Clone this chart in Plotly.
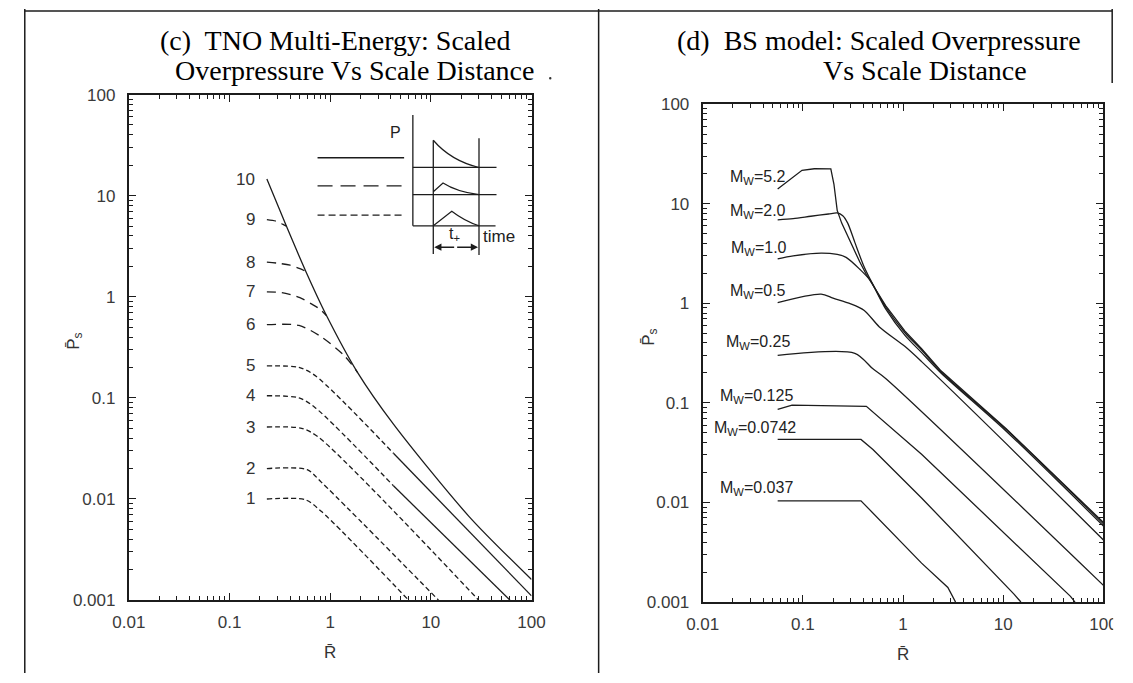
import math
import plotly.graph_objects as go

# ===================== DATA =====================
# Panel (c): TNO Multi-Energy - scaled overpressure vs scaled distance
tno_labels = ["1", "2", "3", "4", "5", "6", "7", "8", "9", "10"]
tno1_R = [0.235, 0.57, 0.82, 6.0]
tno1_P = [0.0100, 0.0098, 0.0075, 0.0010]
tno2_R = [0.235, 0.59, 0.82, 11.9]
tno2_P = [0.0200, 0.0195, 0.0146, 0.0010]
tno3_R = [0.235, 0.52, 0.76, 29.8]
tno3_P = [0.0515, 0.0500, 0.0410, 0.0010]
tno4_R = [0.235, 0.49, 0.71, 4.25, 61.0]
tno4_P = [0.105, 0.100, 0.080, 0.0135, 0.0010]
tno5_R = [0.235, 0.49, 0.71, 4.25, 100.0]
tno5_P = [0.207, 0.200, 0.166, 0.0283, 0.0011]
tno6_R = [0.235, 0.49, 0.82, 1.39, 1.86]
tno6_P = [0.53, 0.52, 0.40, 0.26, 0.18]
tno7_R = [0.235, 0.33, 0.50, 0.65, 0.78, 0.92]
tno7_P = [1.12, 1.10, 0.98, 0.85, 0.76, 0.65]
tno8_R = [0.235, 0.30, 0.40, 0.50, 0.573]
tno8_P = [2.20, 2.15, 2.05, 1.90, 1.78]
tno9_R = [0.235, 0.29, 0.34, 0.367]
tno9_P = [5.8, 5.6, 5.2, 5.0]
tno10_R = [0.235, 0.367, 0.573, 0.90, 1.86, 4.25, 24.0, 100.0]
tno10_P = [14.6, 5.0, 1.78, 0.68, 0.18, 0.055, 0.0067, 0.0016]

# Panel (d): BS model - scaled overpressure vs scaled distance
bs_labels = ["5.2", "2.0", "1.0", "0.5", "0.25", "0.125", "0.0742", "0.037"]
bs1_R = [0.056, 0.071, 0.098, 0.13, 0.19, 0.204, 0.22, 0.244, 0.298, 0.37, 0.43, 0.67, 1.04, 1.53, 2.39, 10.7, 100.0]
bs1_P = [14.1, 16.9, 21.7, 22.5, 22.4, 15.8, 8.6, 6.4, 4.1, 2.6, 1.95, 0.95, 0.53, 0.35, 0.21, 0.055, 0.0063]
bs2_R = [0.056, 0.08, 0.12, 0.18, 0.22, 0.25, 0.28, 0.33, 0.40, 0.47, 0.67, 1.04, 1.53, 2.39, 10.7, 100.0]
bs2_P = [6.9, 7.1, 7.5, 7.9, 8.1, 7.6, 6.4, 4.1, 2.45, 1.75, 0.92, 0.51, 0.34, 0.206, 0.054, 0.0061]
bs3_R = [0.056, 0.08, 0.152, 0.22, 0.27, 0.37, 0.47, 0.67, 1.04, 1.53, 2.39, 10.7, 100.0]
bs3_P = [2.8, 3.0, 3.2, 3.1, 2.9, 2.2, 1.7, 0.88, 0.48, 0.32, 0.20, 0.052, 0.0058]
bs4_R = [0.056, 0.152, 0.20, 0.30, 0.41, 0.58, 1.04, 1.53, 10.7, 100.0]
bs4_P = [1.02, 1.24, 1.13, 0.99, 0.85, 0.58, 0.37, 0.26, 0.039, 0.0042]
bs5_R = [0.056, 0.33, 0.50, 0.67, 100.0]
bs5_P = [0.30, 0.315, 0.22, 0.176, 0.00147]
bs6_R = [0.056, 0.078, 0.43, 0.58, 1.53, 46.9, 52.0]
bs6_P = [0.086, 0.095, 0.0925, 0.0716, 0.0305, 0.00114, 0.0010]
bs7_R = [0.056, 0.38, 0.50, 1.53, 12.8, 15.0]
bs7_P = [0.043, 0.043, 0.034, 0.0111, 0.0012, 0.0010]
bs8_R = [0.056, 0.38, 1.53, 2.8, 3.34]
bs8_P = [0.0104, 0.0104, 0.00246, 0.0014, 0.0010]

x_tick_vals = [0.01, 0.1, 1, 10, 100]
x_tick_text = ["0.01", "0.1", "1", "10", "100"]
y_tick_vals = [0.001, 0.01, 0.1, 1, 10, 100]
y_tick_text = ["0.001", "0.01", "0.1", "1", "10", "100"]

# ===================== STYLE / LAYOUT =====================
W, H = 1133, 683
INK = "#1c1c1c"
SANS = "Liberation Sans, Arial, Helvetica, sans-serif"
SERIF = "Liberation Serif, Times New Roman, serif"

LEFT_BOX = (115, 529, 88, 608)     # x0, x1, ytop, ybottom (pixels)
RIGHT_BOX = (705, 1117, 98, 610)

SHORT_DASH = "5px,3px"
LONG_DASH = "9px,6px"
tno_dash = [SHORT_DASH] * 5 + [LONG_DASH] * 4 + ["solid"]
tno_solid_from = {3: 4.25, 4: 4.25}   # curve index -> R beyond which drawn solid

tno_R = [tno1_R, tno2_R, tno3_R, tno4_R, tno5_R, tno6_R, tno7_R, tno8_R, tno9_R, tno10_R]
tno_P = [tno1_P, tno2_P, tno3_P, tno4_P, tno5_P, tno6_P, tno7_P, tno8_P, tno9_P, tno10_P]
bs_R = [bs1_R, bs2_R, bs3_R, bs4_R, bs5_R, bs6_R, bs7_R, bs8_R]
bs_P = [bs1_P, bs2_P, bs3_P, bs4_P, bs5_P, bs6_P, bs7_P, bs8_P]
bs_spline = [False, True, True, True, True, False, False, False]

fig = go.Figure()

def line_trace(x, y, xa, ya, dash="solid", spline=False):
    return go.Scatter(
        x=x, y=y, xaxis=xa, yaxis=ya, mode="lines", showlegend=False, hoverinfo="skip",
        line=dict(color=INK, width=1.3, dash=dash,
                  shape="spline" if spline else "linear", smoothing=0.8),
    )

for i, (R, P) in enumerate(zip(tno_R, tno_P)):
    if i in tno_solid_from:
        cut = tno_solid_from[i]
        k = R.index(cut)
        fig.add_trace(line_trace(R[:k + 1], P[:k + 1], "x", "y", tno_dash[i], True))
        fig.add_trace(line_trace(R[k:], P[k:], "x", "y", "solid", False))
    else:
        fig.add_trace(line_trace(R, P, "x", "y", tno_dash[i], True))

for i, (R, P) in enumerate(zip(bs_R, bs_P)):
    fig.add_trace(line_trace(R, P, "x2", "y2", "solid", bs_spline[i]))

# invisible trace on a pixel-space overlay axis (used for labels, table lines, inset)
fig.add_trace(go.Scatter(x=[None], y=[None], xaxis="x3", yaxis="y3", showlegend=False, hoverinfo="skip"))

x_minor = [k * 10 ** e for e in range(-2, 2) for k in range(2, 10)]
y_minor = [k * 10 ** e for e in range(-3, 2) for k in range(2, 10)]

def log_axis(box, is_x, anchor):
    x0, x1, yt, yb = box
    dom = [x0 / W, x1 / W] if is_x else [1 - yb / H, 1 - yt / H]
    return dict(
        type="log", domain=dom, anchor=anchor,
        range=[-2, 2] if is_x else [-3, 2],
        tickmode="array",
        tickvals=x_tick_vals if is_x else y_tick_vals,
        ticktext=x_tick_text if is_x else y_tick_text,
        ticks="inside", ticklen=7, tickwidth=1.3, tickcolor=INK,
        minor=dict(tickmode="array", tickvals=x_minor if is_x else y_minor,
                   ticks="inside", ticklen=4, tickwidth=1.1, tickcolor=INK, showgrid=False),
        showline=True, linecolor=INK, linewidth=2, mirror="allticks",
        showgrid=False, zeroline=False,
        ticklabelstandoff=6 if is_x else 8,
        tickfont=dict(family=SANS, size=17, color="#3a3a3a"),
    )

fig.update_layout(
    width=W, height=H, margin=dict(l=0, r=0, t=0, b=0),
    paper_bgcolor="white", plot_bgcolor="rgba(0,0,0,0)",
    xaxis=log_axis(LEFT_BOX, True, "y"),
    yaxis=log_axis(LEFT_BOX, False, "x"),
    xaxis2=log_axis(RIGHT_BOX, True, "y2"),
    yaxis2=log_axis(RIGHT_BOX, False, "x2"),
    xaxis3=dict(domain=[0, 1], range=[0, W], visible=False, anchor="y3", fixedrange=True),
    yaxis3=dict(domain=[0, 1], range=[H, 0], visible=False, anchor="x3", fixedrange=True),
)

shapes = []
annos = []

def seg(x0, y0, x1, y1, width=1.3, dash="solid", color=INK):
    shapes.append(dict(type="line", xref="x3", yref="y3", x0=x0, y0=y0, x1=x1, y1=y1,
                       line=dict(color=color, width=width, dash=dash), layer="above"))

def txt(x, y, s, size=17, family=SANS, xanchor="center", color=INK, angle=0, ref=("x3", "y3")):
    annos.append(dict(xref=ref[0], yref=ref[1], x=x, y=y, text=s, showarrow=False,
                      xanchor=xanchor, yanchor="middle", textangle=angle,
                      font=dict(family=family, size=size, color=color)))

# table borders
seg(8, 0, 8, H, 1.5)
seg(8, 2, 1126, 2, 1.5)
seg(598, 0, 598, H, 1.5)
seg(1126, 0, 1126, 76, 1.5)
shapes.append(dict(type="rect", xref="x3", yref="y3", x0=1127, x1=W + 2, y0=78, y1=H + 2,
                   fillcolor="white", line=dict(width=0), layer="above"))

# panel titles
txt(145, 32, "(c)  TNO Multi-Energy: Scaled", 28, SERIF, "left", "#000")
txt(160, 63, "Overpressure Vs Scale Distance", 28, SERIF, "left", "#000")
txt(676, 32, "(d)  BS model: Scaled Overpressure", 28, SERIF, "left", "#000")
txt(827, 63, "Vs Scale Distance", 28, SERIF, "left", "#000")
shapes.append(dict(type="circle", xref="x3", yref="y3", x0=547, x1=549.5, y0=70, y1=72.5,
                   fillcolor="#333", line=dict(width=0), layer="above"))

# axis titles
txt((LEFT_BOX[0] + LEFT_BOX[1]) / 2, 662, "R\u0304", 17, SANS, color="#333")
txt((RIGHT_BOX[0] + RIGHT_BOX[1]) / 2, 664, "R\u0304", 17, SANS, color="#333")
txt(60, 342, "P\u0304<sub>s</sub>", 17, SANS, color="#333", angle=-90)
txt(650, 338, "P\u0304<sub>s</sub>", 17, SANS, color="#333", angle=-90)

# TNO curve number labels (at each curve's starting level)
for lab, P in zip(tno_labels, tno_P):
    annos.append(dict(xref="x", yref="y", x=math.log10(0.187), y=math.log10(P[0]), text=lab,
                      showarrow=False, xanchor="right", yanchor="middle",
                      font=dict(family=SANS, size=17, color="#333")))

# BS model labels
bs_label_pos = [(731, 173), (731, 208), (732, 246), (731, 291), (727, 343), (721, 399), (715, 431), (721, 493)]
for lab, (lx, ly) in zip(bs_labels, bs_label_pos):
    txt(lx, ly, "M<sub>W</sub>=" + lab, 16, SANS, "left", "#222")

# inset schematic (pressure-time key) in panel (c)
seg(309, 153, 398, 153, 1.3)
seg(309, 182, 398, 182, 1.3, "15px,8px")
seg(309, 212, 398, 212, 1.3, "7px,4px")
seg(407, 109, 407, 223, 1.3)
seg(407, 163, 493, 163, 1.3)
seg(407, 191, 493, 191, 1.3)
seg(407, 223, 492, 223, 1.3)
seg(428, 135, 428, 252, 1.3)
seg(475, 133, 475, 253, 1.3)
for path in ["M428,135 Q446,156 475,163",
             "M428,188 L438,179 Q452,188 475,191",
             "M428,223 L447,208 Q460,218 475,223"]:
    shapes.append(dict(type="path", xref="x3", yref="y3", path=path,
                       line=dict(color=INK, width=1.2), layer="above"))
for (x_tip, x_tail) in [(429, 451), (474, 451)]:
    annos.append(dict(xref="x3", yref="y3", axref="x3", ayref="y3", x=x_tip, y=245,
                      ax=x_tail, ay=245, text="", showarrow=True, arrowhead=2,
                      arrowsize=0.9, arrowwidth=1.6, arrowcolor=INK))
txt(389, 127, "P", 16, SANS, "center", "#222")
txt(450, 232, "t<sub>+</sub>", 16, SANS, "center", "#222")
txt(477, 234, "time", 17, SANS, "left", "#222")

fig.update_layout(shapes=shapes, annotations=annos)

fig.write_html("out.html", config={"displayModeBar": False},
               post_script="document.body.style.margin='0';")
